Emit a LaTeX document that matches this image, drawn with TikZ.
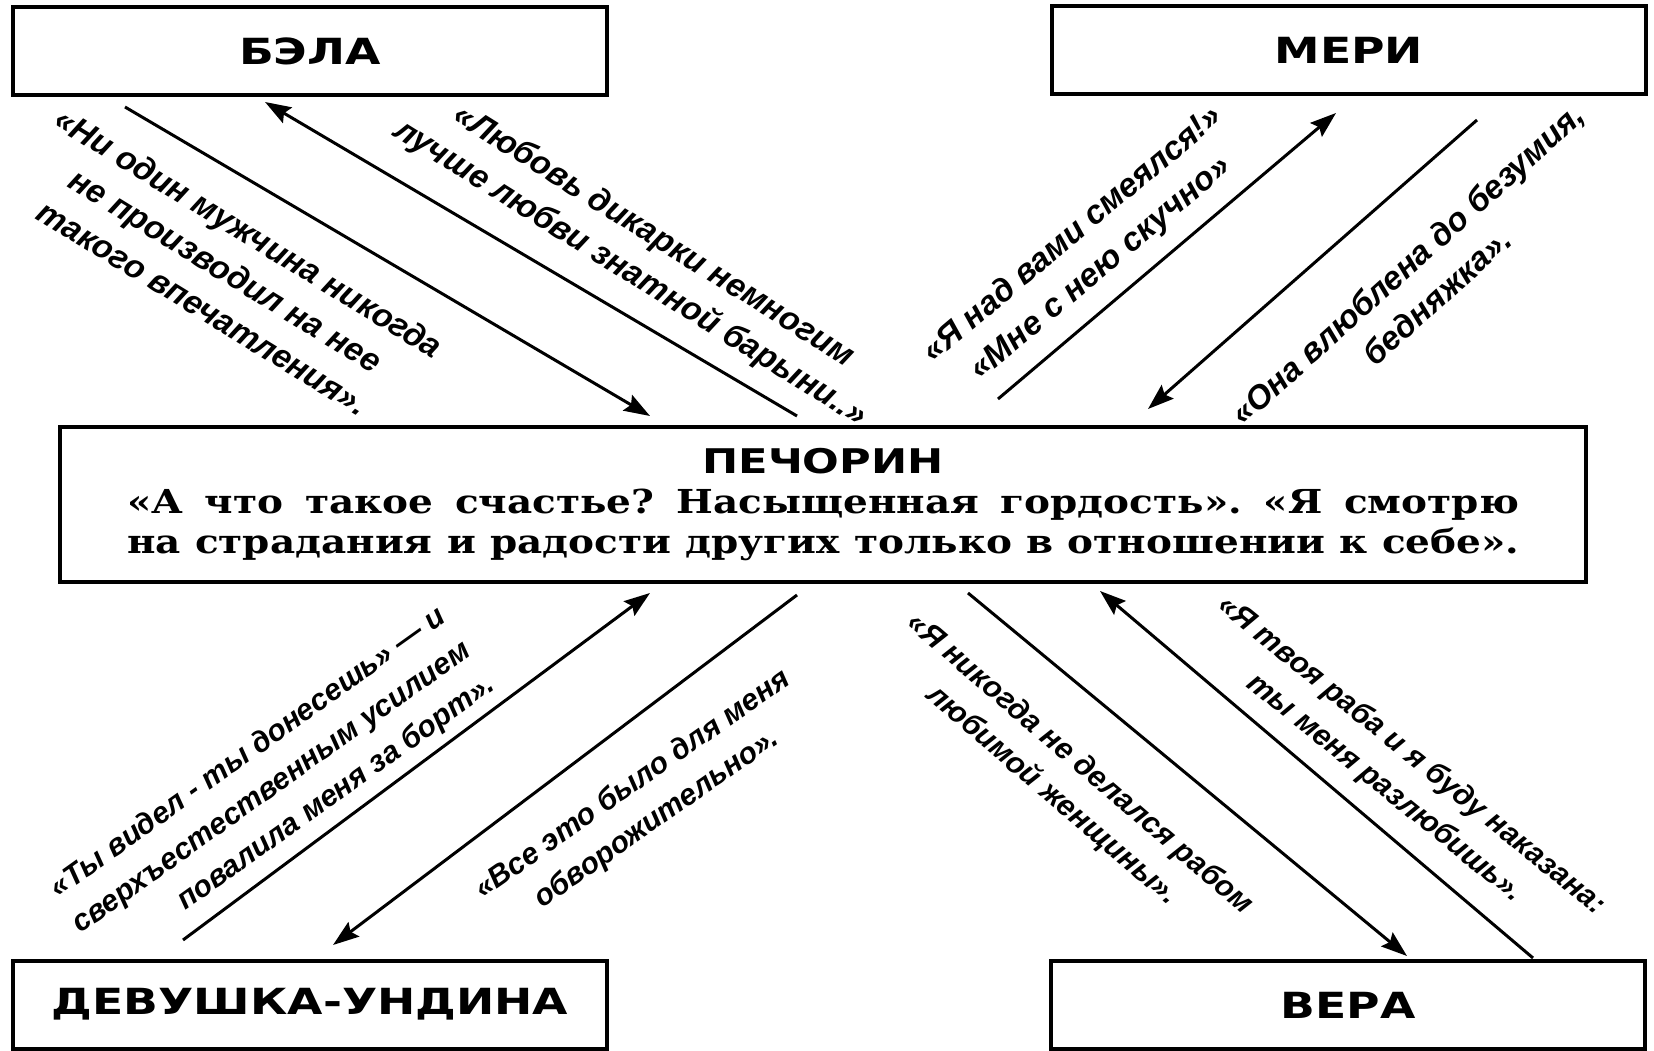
\documentclass[tikz,border=0pt]{standalone}
\usepackage{fontspec}
\setmainfont{Liberation Serif}
\newfontfamily\titlefont{DejaVu Sans}[FakeStretch=1.27]
\newfontfamily\bodyfont{DejaVu Serif}[FakeStretch=1.18]
\newfontfamily\quotefont{Liberation Sans}
\usetikzlibrary{arrows.meta,positioning,calc}

\begin{document}
\begin{tikzpicture}[x=0.5pt, y=0.5pt,
  namebox/.style={draw, line width=2pt, minimum width=297pt, minimum height=44pt, inner sep=0pt, font=\titlefont\bfseries\fontsize{18}{20}\selectfont},
  pechbox/.style={draw, line width=2pt, minimum width=763pt, minimum height=77.5pt, inner sep=0pt, align=center, font=\bodyfont\bfseries\fontsize{16.5}{20}\selectfont\frenchspacing},
  quote/.style={inner sep=0pt, align=center, font=\quotefont\bfseries\itshape\fontsize{16.5}{22}\selectfont},
  lowquote/.style={quote, font=\quotefont\bfseries\itshape\fontsize{15}{21}\selectfont},
  link/.style={line width=1.5pt, -{Stealth[length=13pt, width=9pt, inset=2pt]}}]
\useasboundingbox (0,0) rectangle (1654,1050);

\node[namebox] (bela) at (310,999) {БЭЛА};
\node[namebox] (meri) at (1349,1000) {МЕРИ};
\node[namebox] (undina) at (310,45.5) {ДЕВУШКА-УНДИНА};
\node[namebox] (vera) at (1348,45) {ВЕРА};
\node[pechbox] (pech) at (823,545.5) {{\titlefont\fontsize{17}{20}\selectfont ПЕЧОРИН}\\
  \makebox[696pt][s]{«А что такое счастье? Насыщенная гордость». «Я смотрю}\\
  \makebox[696pt][s]{на страдания и радости других только в отношении к себе».}};

\draw[link] ([shift={(114,-10)}]bela.south west) -- ([shift={(592,9)}]pech.north west);
\draw[link] ([shift={(739,9)}]pech.north west) -- ([shift={(254,-5)}]bela.south west);
\draw[link] ([shift={(940,26)}]pech.north west) -- ([shift={(286,-17)}]meri.south west);
\draw[link] ([shift={(427,-24)}]meri.south west) -- ([shift={(1090,16)}]pech.north west);
\draw[link] ([shift={(172,18.5)}]undina.north west) -- ([shift={(592,-9)}]pech.south west);
\draw[link] ([shift={(739,-11)}]pech.south west) -- ([shift={(322,13.5)}]undina.north west);
\draw[link] ([shift={(910,-9)}]pech.south west) -- ([shift={(358,3)}]vera.north west);
\draw[link] ([shift={(484,1)}]vera.north west) -- ([shift={(1042,-7)}]pech.south west);

\node[quote, rotate=-31.5] (q1) at (226,780) {«Ни один мужчина никогда\\ не производил на нее\\ такого впечатления».};
\node[quote, rotate=-32] (q2) at (642,795) {«Любовь дикарки немногим\\ лучше любви знатной барыни..»};
\node[quote, rotate=40] (q3) at (1087,798) {«Я над вами смеялся!»\\ «Мне с нею скучно»};
\node[quote, rotate=42] (q4) at (1422,770) {«Она влюблена до безумия,\\ бедняжка».};
\node[lowquote, rotate=35.5, align=right] (q5) at (272,262) {«Ты видел - ты донесешь» — и\\ сверхъестественным усилием\\ повалила меня за борт».};
\node[lowquote, rotate=35] (q6) at (645,248) {«Все это было для меня\\ обворожительно».};
\node[lowquote, rotate=-40.6] (q7) at (1066,270) {«Я никогда не делался рабом\\ любимой женщины».};
\node[lowquote, rotate=-39] (q8) at (1398,278) {«Я твоя раба и я буду наказана:\\ ты меня разлюбишь».};
\end{tikzpicture}
\end{document}
